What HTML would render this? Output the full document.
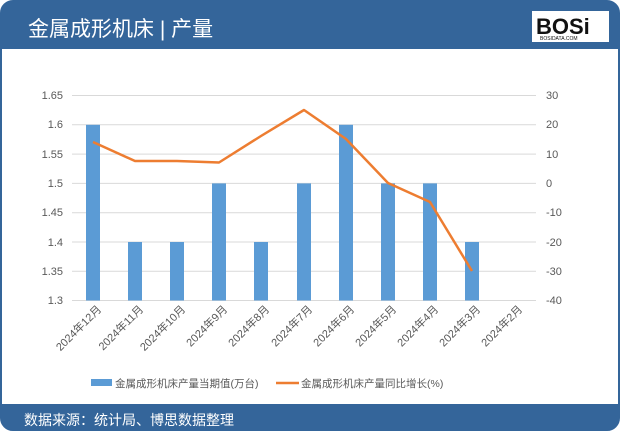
<!DOCTYPE html>
<html><head><meta charset="utf-8"><style>
body{margin:0;width:620px;height:432px;background:#fff;overflow:hidden}
svg{display:block}
text{font-family:"Liberation Sans","Noto Sans CJK SC",sans-serif}
</style></head><body>
<svg width="620" height="432" viewBox="0 0 620 432" xmlns="http://www.w3.org/2000/svg">
<rect x="1" y="1" width="618" height="429" rx="12" fill="#fff" stroke="#34659a" stroke-width="2"/>
<path d="M1,13 a12,12 0 0 1 12,-12 h594 a12,12 0 0 1 12,12 V49 H1 Z" fill="#34659a"/>
<path d="M1,404 H619 V418 a12,12 0 0 1 -12,12 H13 a12,12 0 0 1 -12,-12 Z" fill="#34659a"/>
<text x="28" y="36" font-size="21" fill="#fff">金属成形机床 | 产量</text>
<rect x="532" y="11" width="77" height="31" fill="#fff"/>
<text x="536" y="34" font-size="22" font-weight="bold" fill="#111">BOSi</text>
<text x="540" y="40" font-size="5" fill="#111">BOSIDATA.COM</text>
<text x="24" y="425" font-size="14" fill="#fff">数据来源：统计局、博思数据整理</text>
<g stroke="#d9d9d9" stroke-width="1">
<line x1="72" y1="95.5" x2="536" y2="95.5"/>
<line x1="72" y1="124.8" x2="536" y2="124.8"/>
<line x1="72" y1="154.1" x2="536" y2="154.1"/>
<line x1="72" y1="183.4" x2="536" y2="183.4"/>
<line x1="72" y1="212.7" x2="536" y2="212.7"/>
<line x1="72" y1="242" x2="536" y2="242"/>
<line x1="72" y1="271.3" x2="536" y2="271.3"/>
<line x1="72" y1="300.5" x2="536" y2="300.5"/>
</g>
<g fill="#5b9bd5">
<rect x="86" y="124.8" width="14" height="175.7"/>
<rect x="128" y="242" width="14" height="58.5"/>
<rect x="170" y="242" width="14" height="58.5"/>
<rect x="212" y="183.4" width="14" height="117.1"/>
<rect x="254" y="242" width="14" height="58.5"/>
<rect x="297" y="183.4" width="14" height="117.1"/>
<rect x="339" y="124.8" width="14" height="175.7"/>
<rect x="381" y="183.4" width="14" height="117.1"/>
<rect x="423" y="183.4" width="14" height="117.1"/>
<rect x="465" y="242" width="14" height="58.5"/>
</g>
<polyline fill="none" stroke="#ed7d31" stroke-width="2.5" stroke-linejoin="round" points="93,142 135,161 177,161 219,162.5 261,136 304,110 346,139 388,183 430,202 472,271"/>
<g font-size="11" fill="#595959" text-anchor="end">
<text x="63" y="99">1.65</text><text x="63" y="128">1.6</text><text x="63" y="158">1.55</text>
<text x="63" y="187">1.5</text><text x="63" y="216">1.45</text><text x="63" y="246">1.4</text>
<text x="63" y="275">1.35</text><text x="63" y="304">1.3</text>
</g>
<g font-size="11" fill="#595959">
<text x="546" y="99">30</text><text x="546" y="128">20</text><text x="546" y="158">10</text>
<text x="546" y="187">0</text><text x="546" y="216">-10</text><text x="546" y="246">-20</text>
<text x="546" y="275">-30</text><text x="546" y="304">-40</text>
</g>
<g font-size="11" fill="#595959" text-anchor="end">
<text transform="translate(102,310) rotate(-45)">2024年12月</text>
<text transform="translate(144,310) rotate(-45)">2024年11月</text>
<text transform="translate(186,310) rotate(-45)">2024年10月</text>
<text transform="translate(228,310) rotate(-45)">2024年9月</text>
<text transform="translate(270,310) rotate(-45)">2024年8月</text>
<text transform="translate(313,310) rotate(-45)">2024年7月</text>
<text transform="translate(355,310) rotate(-45)">2024年6月</text>
<text transform="translate(397,310) rotate(-45)">2024年5月</text>
<text transform="translate(439,310) rotate(-45)">2024年4月</text>
<text transform="translate(481,310) rotate(-45)">2024年3月</text>
<text transform="translate(523,310) rotate(-45)">2024年2月</text>
</g>
<rect x="91" y="379" width="21" height="7" fill="#5b9bd5"/>
<text x="115" y="387" font-size="10.5" fill="#595959">金属成形机床产量当期值(万台)</text>
<line x1="276" y1="383" x2="299" y2="383" stroke="#ed7d31" stroke-width="2.5"/>
<text x="301" y="387" font-size="10.5" fill="#595959">金属成形机床产量同比增长(%)</text>
</svg>
</body></html>
